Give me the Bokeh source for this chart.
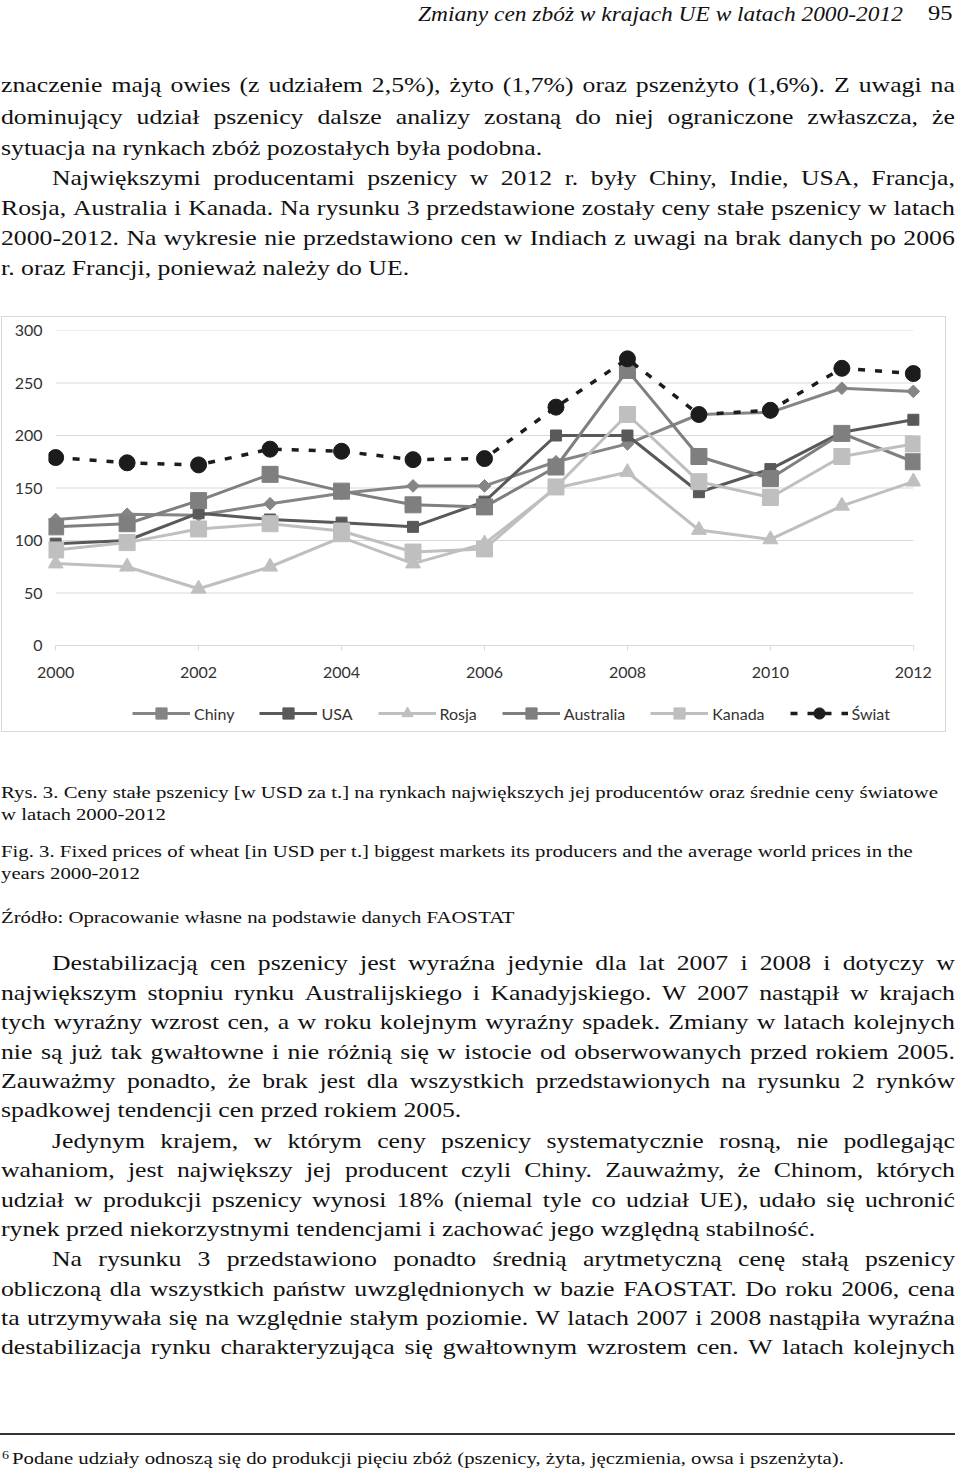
import html
import math
from bokeh.plotting import figure
from bokeh.models import Div, Range1d, Legend, LegendItem, FixedTicker
from bokeh.layouts import column
from bokeh.embed import file_html
from bokeh.resources import INLINE

# ---------------- data ----------------
years = [2000, 2001, 2002, 2003, 2004, 2005, 2006, 2007, 2008, 2009, 2010, 2011, 2012]
chiny = [120, 125, 124, 135, 145, 152, 152, 175, 192, 220, 222, 245, 242]
usa = [97, 100, 126, 120, 117, 113, 137, 200, 200, 146, 168, 203, 215]
rosja = [78, 75, 54, 75, 103, 78, 97, 150, 165, 110, 101, 133, 156]
australia = [113, 116, 138, 163, 147, 134, 132, 170, 262, 180, 159, 202, 175]
kanada = [91, 98, 111, 116, 109, 89, 92, 151, 220, 156, 141, 180, 192]
swiat = [179, 174, 172, 187, 185, 177, 178, 227, 273, 220, 224, 264, 259]
series_names = ["Chiny", "USA", "Rosja", "Australia", "Kanada", "Świat"]
x_ticks = [2000, 2002, 2004, 2006, 2008, 2010, 2012]
y_ticks = [0, 50, 100, 150, 200, 250, 300]

header_title = "Zmiany cen zbóż w krajach UE w latach 2000-2012"
page_number = "95"
block1 = [
    ("znaczenie mają owies (z udziałem 2,5%), żyto (1,7%) oraz pszenżyto (1,6%). Z uwagi na", False, True),
    ("dominujący udział pszenicy dalsze analizy zostaną do niej ograniczone zwłaszcza, że", False, True),
    ("sytuacja na rynkach zbóż pozostałych była podobna.", False, False),
    ("Największymi producentami pszenicy w 2012 r. były Chiny, Indie, USA, Francja,", True, True),
    ("Rosja, Australia i Kanada. Na rysunku 3 przedstawione zostały ceny stałe pszenicy w latach", False, True),
    ("2000-2012. Na wykresie nie przedstawiono cen w Indiach z uwagi na brak danych po 2006", False, True),
    ("r. oraz Francji, ponieważ należy do UE.", False, False),
]
captions = [
    "Rys. 3. Ceny stałe pszenicy [w USD za t.] na rynkach największych jej producentów oraz średnie ceny światowe",
    "w latach 2000-2012",
    "Fig. 3. Fixed prices of wheat [in USD per t.] biggest markets its producers and the average world prices in the",
    "years 2000-2012",
    "Źródło: Opracowanie własne na podstawie danych FAOSTAT",
]
block2 = [
    ("Destabilizacją cen pszenicy jest wyraźna jedynie dla lat 2007 i 2008 i dotyczy w", True, True),
    ("największym stopniu rynku Australijskiego i Kanadyjskiego. W 2007 nastąpił w krajach", False, True),
    ("tych wyraźny wzrost cen, a w roku kolejnym wyraźny spadek. Zmiany w latach kolejnych", False, True),
    ("nie są już tak gwałtowne i nie różnią się w istocie od obserwowanych przed rokiem 2005.", False, True),
    ("Zauważmy ponadto, że brak jest dla wszystkich przedstawionych na rysunku 2 rynków", False, True),
    ("spadkowej tendencji cen przed rokiem 2005.", False, False),
    ("Jedynym krajem, w którym ceny pszenicy systematycznie rosną, nie podlegając", True, True),
    ("wahaniom, jest największy jej producent czyli Chiny. Zauważmy, że Chinom, których", False, True),
    ("udział w produkcji pszenicy wynosi 18% (niemal tyle co udział UE), udało się uchronić", False, True),
    ("rynek przed niekorzystnymi tendencjami i zachować jego względną stabilność.", False, False),
    ("Na rysunku 3 przedstawiono ponadto średnią arytmetyczną cenę stałą pszenicy", True, True),
    ("obliczoną dla wszystkich państw uwzględnionych w bazie FAOSTAT. Do roku 2006, cena", False, True),
    ("ta utrzymywała się na względnie stałym poziomie. W latach 2007 i 2008 nastąpiła wyraźna", False, True),
    ("destabilizacja rynku charakteryzująca się gwałtownym wzrostem cen. W latach kolejnych", False, True),
]
footnote_mark = "6"
footnote = "Podane udziały odnoszą się do produkcji pięciu zbóż (pszenicy, żyta, jęczmienia, owsa i pszenżyta)."

# ---------------- text helpers ----------------
SX = 1.17
FONT = "'Liberation Serif', 'Times New Roman', serif"


def line_html(text, x0, base, size, div_top, x1=None, italic=False, sx=SX, color="#111"):
    top = base - 0.8375 * size - div_top
    style = (f"position:absolute;left:{x0:.1f}px;top:{top:.1f}px;font-family:{FONT};"
             f"font-size:{size}px;line-height:{size}px;color:{color};transform:scaleX({sx});"
             f"transform-origin:0 0;white-space:nowrap;")
    if italic:
        style += "font-style:italic;"
    if x1 is not None:
        style += f"display:flex;justify-content:space-between;width:{(x1 - x0) / sx:.1f}px;"
        inner = "".join(f"<span>{html.escape(w)}</span>" for w in text.split())
    else:
        inner = html.escape(text)
    return f'<div style="{style}">{inner}</div>'


def block_html(parts, h):
    return f'<div style="position:relative;width:944px;height:{h}px;">' + "".join(parts) + "</div>"


BODY = 22
CAP = 17.75
RIGHT = 955
INDENT = 52

FIG_TOP = 316
FIG_H = 374
LEG_H = 42
BOT_TOP = FIG_TOP + FIG_H + LEG_H  # 732
PAGE_H = 1472

# top text (page y 0 .. 316)
parts1 = [
    line_html(header_title, 418, 21, 20, 0, italic=True),
    line_html(page_number, 928, 21, 21, 0),
]
base1 = [92, 124, 155, 185, 215, 245, 275]
for (t, ind, just), b in zip(block1, base1):
    x0 = INDENT if ind else 1
    parts1.append(line_html(t, x0, b, BODY, 0, x1=RIGHT if just else None))
div1 = Div(text=block_html(parts1, FIG_TOP), width=944, height=FIG_TOP,
           margin=0, styles={"overflow": "visible"})

# bottom text (page y 732 .. end)
parts2 = []
# outer frame of the chart, drawn over the figure area
parts2.append(f'<div style="position:absolute;left:1px;top:{FIG_TOP - BOT_TOP}px;width:945px;height:416px;'
              f'box-sizing:border-box;border:1px solid #d9d9d9;z-index:10;pointer-events:none;"></div>')
cap_base = [799, 821, 858, 880, 924]
for t, b in zip(captions, cap_base):
    parts2.append(line_html(t, 1, b, CAP, BOT_TOP))
base2 = [970, 1000, 1029, 1059, 1088, 1117, 1148, 1177, 1207, 1236, 1266, 1296, 1325, 1354]
for (t, ind, just), b in zip(block2, base2):
    x0 = INDENT if ind else 1
    parts2.append(line_html(t, x0, b, BODY, BOT_TOP, x1=RIGHT if just else None))
parts2.append(f'<div style="position:absolute;left:0px;top:{1433 - BOT_TOP}px;width:955px;height:0;'
              f'border-top:2px solid #333;"></div>')
parts2.append(line_html(footnote_mark, 2, 1459, 12, BOT_TOP))
parts2.append(line_html(footnote, 12, 1465, CAP, BOT_TOP))
div2 = Div(text=block_html(parts2, PAGE_H - BOT_TOP), width=944, height=PAGE_H - BOT_TOP,
           margin=0, styles={"overflow": "visible"})

# ---------------- chart ----------------
p = figure(width=944, height=FIG_H, x_range=Range1d(1999.9, 2012.1), y_range=Range1d(0, 300),
           output_backend="svg", toolbar_location=None, margin=0,
           min_border_left=48, min_border_right=24, min_border_top=14, min_border_bottom=45)
p.outline_line_color = None
p.background_fill_color = "white"
p.border_fill_color = "white"
p.xgrid.visible = False
p.ygrid.visible = False

grid_vals = y_ticks[1:]
p.segment(x0=[years[0]] * len(grid_vals), x1=[years[-1]] * len(grid_vals),
          y0=grid_vals, y1=grid_vals, line_color="#d9d9d9", line_width=1)

xa = p.xaxis[0]
xa.ticker = FixedTicker(ticks=x_ticks)
xa.bounds = (years[0], years[-1])
xa.axis_line_color = "#d9d9d9"
xa.major_tick_line_color = "#d9d9d9"
xa.major_tick_out = 5
xa.major_tick_in = 0
xa.minor_tick_line_color = None
xa.major_label_standoff = 16
ya = p.yaxis[0]
ya.ticker = FixedTicker(ticks=y_ticks)
ya.axis_line_color = None
ya.major_tick_line_color = None
ya.minor_tick_line_color = None
ya.major_tick_out = 0
ya.major_tick_in = 0
ya.major_label_standoff = 6
for ax in (xa, ya):
    ax.major_label_text_font = "Lato"
    ax.major_label_text_font_size = "16px"
    ax.major_label_text_color = "#333333"

styles = [
    (chiny, "#858585", "square", 9, math.pi / 4, None),
    (usa, "#595959", "square", 11, 0, None),
    (rosja, "#bfbfbf", "triangle", 15, 0, None),
    (australia, "#7f7f7f", "square", 16, 0, None),
    (kanada, "#bfbfbf", "square", 16, 0, None),
    (swiat, "#1c1c1c", "circle", 16, 0, "7 10"),
]

# legend strip (separate figure just below the chart, inside the same outer frame);
# its ranges keep the series themselves out of view, only the legend shows
pl = figure(width=944, height=LEG_H, x_range=Range1d(0, 1), y_range=Range1d(0, 1),
            output_backend="svg", toolbar_location=None, margin=0,
            min_border_left=48, min_border_right=24, min_border_top=0, min_border_bottom=0)
pl.axis.visible = False
pl.grid.visible = False
pl.outline_line_color = None
pl.background_fill_color = "white"
pl.border_fill_color = "white"

items = []
for name, (vals, col, mk, sz, ang, dash) in zip(series_names, styles):
    kw = {}
    if dash:
        kw["line_dash"] = dash
    lw = 3.5 if dash else 3
    p.line(years, vals, line_color=col, line_width=lw, **kw)
    p.scatter(years, vals, marker=mk, size=sz, angle=ang, fill_color=col, line_color=col)
    ll = pl.line(years, vals, line_color=col, line_width=lw, **kw)
    lm = pl.scatter(years, vals, marker=mk, size=sz, angle=ang, fill_color=col, line_color=col)
    items.append(LegendItem(label=name, renderers=[ll, lm]))

legend = Legend(items=items, orientation="horizontal", location=(84, 5),
                glyph_width=58, glyph_height=28, label_standoff=4, spacing=25,
                padding=0, margin=0, border_line_color=None, background_fill_alpha=0,
                label_text_font="Lato", label_text_font_size="16px", label_text_color="#333333",
                label_height=28)
pl.add_layout(legend)

layout = column(div1, p, pl, div2, spacing=0)
open("out.html", "w").write(file_html(layout, INLINE))
